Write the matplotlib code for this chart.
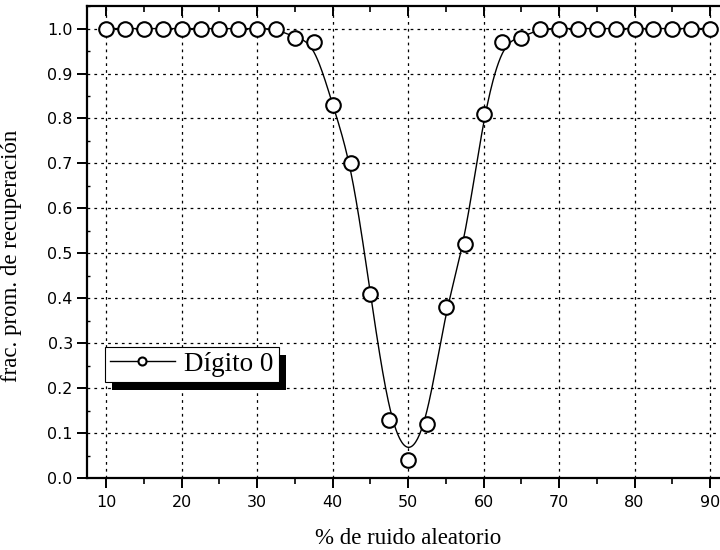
import numpy as np
import matplotlib
matplotlib.use("Agg")
import matplotlib.pyplot as plt
from matplotlib.patches import Rectangle
from matplotlib.ticker import MultipleLocator

# % de ruido aleatorio
noise_pct = [10, 12.5, 15, 17.5, 20, 22.5, 25, 27.5, 30, 32.5,
             35, 37.5, 40, 42.5, 45, 47.5, 50, 52.5, 55, 57.5,
             60, 62.5, 65, 67.5, 70, 72.5, 75, 77.5, 80, 82.5,
             85, 87.5, 90]
# fraccion promedio de recuperacion, digito 0
recovery = [1.0, 1.0, 1.0, 1.0, 1.0, 1.0, 1.0, 1.0, 1.0, 1.0,
            0.98, 0.97, 0.83, 0.70, 0.41, 0.13, 0.04, 0.12, 0.38, 0.52,
            0.81, 0.97, 0.98, 1.0, 1.0, 1.0, 1.0, 1.0, 1.0, 1.0,
            1.0, 1.0, 1.0]
series_label = "Dígito 0"

SANS = "DejaVu Sans"
SERIF = "Liberation Serif"


def bspline(xs, ys, n_per_seg=20):
    """Uniform cubic B-spline using the data points as control points
    (Origin style 'B-Spline' connection, does not pass through every point)."""
    px = np.r_[xs[0], xs[0], xs, xs[-1], xs[-1]].astype(float)
    py = np.r_[ys[0], ys[0], ys, ys[-1], ys[-1]].astype(float)
    t = np.linspace(0, 1, n_per_seg, endpoint=False)
    b0 = (1 - t) ** 3 / 6
    b1 = (3 * t**3 - 6 * t**2 + 4) / 6
    b2 = (-3 * t**3 + 3 * t**2 + 3 * t + 1) / 6
    b3 = t**3 / 6
    out_x, out_y = [], []
    for i in range(len(px) - 3):
        out_x.append(b0 * px[i] + b1 * px[i + 1] + b2 * px[i + 2] + b3 * px[i + 3])
        out_y.append(b0 * py[i] + b1 * py[i + 1] + b2 * py[i + 2] + b3 * py[i + 3])
    return np.concatenate(out_x), np.concatenate(out_y)


def main():
    fig = plt.figure(figsize=(7.2, 5.5), dpi=100)
    # axes runs past the right edge of the picture, like the original export
    ax = fig.add_axes([0.1213, 0.1309, 0.891, 0.858])

    sx, sy = bspline(noise_pct, recovery)
    ax.plot(sx, sy, color="black", linewidth=1.0, zorder=2)
    ax.plot(noise_pct, recovery, linestyle="none", marker="o", markersize=10.5,
            markerfacecolor="white", markeredgecolor="black", markeredgewidth=1.5,
            zorder=3, clip_on=False)

    # legend proxy (line + marker)
    ax.plot([], [], color="black", linewidth=1.0, marker="o", markersize=10.5,
            markerfacecolor="white", markeredgecolor="black", markeredgewidth=1.5,
            label=series_label)

    ax.set_xlim(7.5, 92.5)
    ax.set_ylim(0.0, 1.05)
    ax.xaxis.set_major_locator(MultipleLocator(10))
    ax.xaxis.set_minor_locator(MultipleLocator(5))
    ax.yaxis.set_major_locator(MultipleLocator(0.1))
    ax.yaxis.set_minor_locator(MultipleLocator(0.05))
    ax.yaxis.set_major_formatter(matplotlib.ticker.FormatStrFormatter("%.1f"))

    ax.grid(True, which="major", color="black", linestyle=(0, (2.2, 3.3)),
            linewidth=0.9)
    ax.set_axisbelow(True)

    for side in ["left", "bottom", "top", "right"]:
        ax.spines[side].set_linewidth(1.6)

    ax.tick_params(axis="both", which="major", labelsize=11.5, width=1.4)
    ax.tick_params(axis="x", which="major", direction="out", length=7, pad=5,
                   top=True)
    ax.tick_params(axis="x", which="minor", direction="out", length=4, width=1.2,
                   top=True)
    ax.tick_params(axis="y", which="major", direction="out", length=7, pad=3.5)
    ax.tick_params(axis="y", which="minor", direction="in", length=2.5, width=1.0)
    # top ticks point inwards
    for t in ax.xaxis.get_major_ticks() + ax.xaxis.get_minor_ticks():
        t.tick2line.set_marker(matplotlib.lines.TICKDOWN)
    for lab in ax.get_xticklabels() + ax.get_yticklabels():
        lab.set_fontfamily(SANS)

    ax.set_xlabel("% de ruido aleatorio", fontfamily=SERIF, fontsize=16.5,
                  labelpad=13)
    ax.set_ylabel("frac. prom. de recuperación", fontfamily=SERIF, fontsize=16.5)
    ax.yaxis.set_label_coords(-0.102, 0.47)

    leg = ax.legend(loc="upper left", bbox_to_anchor=(105 / 720, 1 - 347 / 550),
                    bbox_transform=fig.transFigure, borderaxespad=0,
                    prop={"family": SERIF, "size": 19.5}, markerscale=0.55,
                    handlelength=2.4, handletextpad=0.35, borderpad=0.18,
                    fancybox=False, framealpha=1, edgecolor="black")
    leg.get_frame().set_linewidth(0.8)
    leg.set_zorder(6)

    # black drop shadow behind the legend box
    fig.canvas.draw()
    bb = leg.get_window_extent()
    inv = ax.transAxes.inverted()
    (x0, y0), (x1, y1) = inv.transform([[bb.x0 + 7, bb.y0 - 8], [bb.x1 + 7, bb.y1 - 8]])
    ax.add_patch(Rectangle((x0, y0), x1 - x0, y1 - y0, transform=ax.transAxes,
                           facecolor="black", edgecolor="none", zorder=5,
                           clip_on=False))

    fig.savefig("out.png", dpi=100)
    plt.close(fig)


if __name__ == "__main__":
    main()
